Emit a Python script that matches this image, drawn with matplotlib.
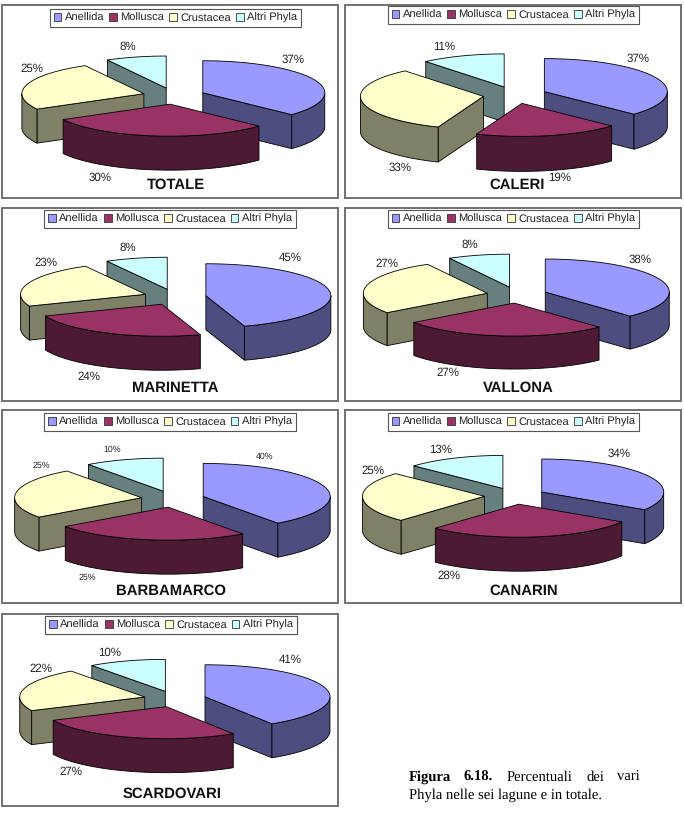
import matplotlib
matplotlib.use("Agg")
import matplotlib.pyplot as plt
from matplotlib.patches import Patch, Polygon, Rectangle
import numpy as np

plt.rcParams['font.family'] = ['Liberation Sans', 'DejaVu Sans']
plt.rcParams['text.hinting'] = 'no_hinting'

W, H = 684, 819

categories = ["Anellida", "Mollusca", "Crustacea", "Altri Phyla"]
titles = ["TOTALE", "CALERI", "MARINETTA", "VALLONA", "BARBAMARCO", "CANARIN", "SCARDOVARI"]

totale = [37, 30, 25, 8]
caleri = [37, 19, 33, 11]
marinetta = [45, 24, 23, 8]
vallona = [38, 27, 27, 8]
barbamarco = [40, 25, 25, 10]
canarin = [34, 28, 25, 13]
scardovari = [41, 27, 22, 10]
all_values = [totale, caleri, marinetta, vallona, barbamarco, canarin, scardovari]

top_colors = ["#9999FF", "#993366", "#FFFFCC", "#CCFFFF"]
side_colors = ["#4D4D80", "#4D1A33", "#808066", "#668080"]

# panel box in pixels: left, top, right, bottom
boxes = [(2, 5, 338, 198), (345, 5, 681, 198),
         (2, 208, 338, 401), (345, 208, 681, 401),
         (2, 410, 338, 603), (345, 410, 681, 603),
         (2, 614, 338, 806)]
# pie centre x, centre y, radius x, radius y, depth, explosion
pies = [(174, 96, 122, 32, 34, 0.257), (515, 95, 123, 33, 35, 0.26),
        (175, 297, 125, 32, 34, 0.25), (517, 295, 124, 33, 33, 0.245),
        (173, 499, 127, 33, 34, 0.25), (515, 496, 122, 33, 34, 0.25),
        (175, 699, 125, 32, 34, 0.25)]
# label positions per panel, same order as categories
label_pos = [[(293, 60), (100, 178), (32, 69), (128, 47)],
             [(638, 59), (560, 178), (400, 168), (444, 47)],
             [(290, 258), (89, 377), (46, 263), (128, 248)],
             [(640, 260), (448, 373), (387, 264), (470, 245)],
             [(265, 457), (87, 578), (41, 466), (112, 450)],
             [(619, 454), (449, 576), (373, 471), (441, 450)],
             [(290, 660), (71, 772), (41, 669), (110, 653)]]
label_size = [8.3, 8.3, 8.3, 8.3, 6.3, 8.3, 8.3]
title_x = [176, 517, 175, 518, 171, 524, 172]
title_y = [185, 185, 388, 388, 591, 591, 794]
legend_x = [175.5, 513.5, 170, 513.5, 170, 513.5, 171]
legend_y = [9, 6, 210, 210, 413, 413, 616]


def draw_pie(ax, values, cx, cy, a, b, depth, explode):
    edges = np.cumsum([0] + list(values)) / sum(values) * 2 * np.pi
    # back pieces first so the front ones cover them
    for i in [3, 0, 2, 1]:
        t1, t2 = edges[i], edges[i + 1]
        mid = (t1 + t2) / 2
        ox = cx + explode * a * np.sin(mid)
        oy = cy - explode * b * np.cos(mid)
        t = np.linspace(t1, t2, 80)
        x = ox + a * np.sin(t)
        y = oy - b * np.cos(t)
        kw = dict(edgecolor="black", linewidth=0.6, joinstyle="round")
        # cut faces towards the viewer
        if np.sin(t1) < -1e-6:
            ax.add_patch(Polygon([(ox, oy), (x[0], y[0]), (x[0], y[0] + depth), (ox, oy + depth)],
                                 facecolor=side_colors[i], **kw))
        if np.sin(t2) > 1e-6:
            ax.add_patch(Polygon([(ox, oy), (x[-1], y[-1]), (x[-1], y[-1] + depth), (ox, oy + depth)],
                                 facecolor=side_colors[i], **kw))
        # outer rim, front half only
        front = np.cos(t) < 0
        if front.any():
            xf, yf = x[front], y[front]
            ax.add_patch(Polygon(np.r_[np.c_[xf, yf], np.c_[xf, yf + depth][::-1]],
                                 facecolor=side_colors[i], **kw))
        ax.add_patch(Polygon(np.r_[[(ox, oy)], np.c_[x, y]], facecolor=top_colors[i], **kw))


fig = plt.figure(figsize=(W / 100, H / 100), dpi=100)
ax = fig.add_axes([0, 0, 1, 1])
ax.set_xlim(0, W)
ax.set_ylim(H, 0)
ax.axis("off")

handles = [Patch(facecolor=c, edgecolor="#333333", linewidth=0.6) for c in top_colors]

for n, values in enumerate(all_values):
    l, t, r, b = boxes[n]
    ax.add_patch(Rectangle((l, t), r - l, b - t, facecolor="white", edgecolor="#707070", linewidth=1.4))
    draw_pie(ax, values, *pies[n])
    for v, (lx, ly) in zip(values, label_pos[n]):
        ax.text(lx, ly, f"{v}%", fontsize=label_size[n], ha="center", va="center", color="#222222")
    ax.text(title_x[n], title_y[n], titles[n], fontsize=10.7, fontweight="bold",
            ha="center", va="center", color="#111111")
    leg = ax.legend(handles, categories, ncol=4, loc="upper center",
                    bbox_to_anchor=(legend_x[n] / W, 1 - legend_y[n] / H),
                    bbox_transform=fig.transFigure, fontsize=8.0, frameon=True, fancybox=False,
                    framealpha=1, edgecolor="#555555", handlelength=0.7, handleheight=0.7,
                    handletextpad=0.3, columnspacing=0.45, borderpad=0.35, borderaxespad=0)
    leg.get_frame().set_linewidth(0.8)
    for txt in leg.get_texts():
        txt.set_color("#222222")
    ax.add_artist(leg)

# caption, first line is justified
serif = "Liberation Serif"
ax.text(409, 777, "Figura", fontsize=10.5, fontweight="bold", family=serif, va="center")
ax.text(464, 777, "6.18.", fontsize=10.5, fontweight="bold", family=serif, va="center")
ax.text(507, 777, "Percentuali", fontsize=10.5, family=serif, va="center")
ax.text(586, 777, "dei", fontsize=10.5, family=serif, va="center")
ax.text(617, 777, "vari", fontsize=10.5, family=serif, va="center")
ax.text(409, 795, "Phyla nelle sei lagune e in totale.", fontsize=10.5, family=serif, va="center")

fig.savefig("out.png", dpi=100)
